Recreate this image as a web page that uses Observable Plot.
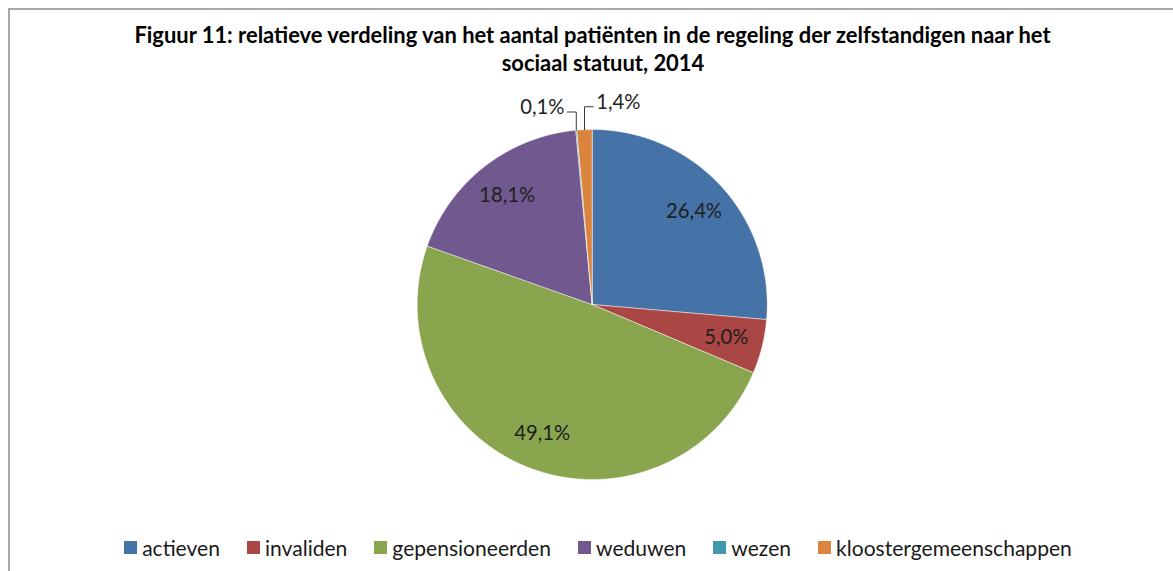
<!DOCTYPE html>
<html><head><meta charset="utf-8">
<script src="https://cdn.jsdelivr.net/npm/d3@7"></script>
<script src="https://cdn.jsdelivr.net/npm/@observablehq/plot@0.6"></script>
<style>
html,body{margin:0;padding:0;background:#fff;}
#wrap{position:relative;width:1173px;height:571px;overflow:hidden;}
#frame{position:absolute;left:8px;top:8px;width:1300px;height:700px;border:2px solid #a9a9a9;box-sizing:border-box;}
#chart{position:absolute;left:0;top:0;}
.title{position:absolute;text-align:center;font-weight:bold;color:#000;white-space:nowrap;}
#legend{position:absolute;left:0;width:1196px;top:537px;height:20px;display:flex;justify-content:center;align-items:center;gap:27px;color:#1a1a1a;white-space:nowrap;}
#legend .item{display:flex;align-items:center;}
#legend .sw{width:13px;height:13px;margin-right:5px;}
</style></head><body>
<div id="wrap">
  <div id="frame"></div>
  <div id="chart"></div>
  <div id="legend"></div>
</div>
<script>
// ---- data ----
const categories = ["actieven","invaliden","gepensioneerden","weduwen","wezen","kloostergemeenschappen"];
const values = [26.4, 5.0, 49.1, 18.1, 0.1, 1.4];
const colors = ["#4572A7","#AA4643","#89A54E","#71588F","#4198AF","#DB843D"];
const titleLines = [
  "Figuur 11: relatieve verdeling van het aantal patiënten in de regeling der zelfstandigen naar het",
  "sociaal statuut, 2014"
];

// ---- layout ----
const W = 1173, H = 571;
const CX = 591.7, CY = 304, R = 175;
const FONT = "Lato, 'Open Sans', sans-serif";

const ctx = document.createElement("canvas").getContext("2d");
function fit(text, weight, target) {
  ctx.font = `${weight} 100px Lato`;
  return 100 * target / ctx.measureText(text).width;
}
const titleSize = fit(titleLines[0], "bold", 919);
const legendSize = fit("kloostergemeenschappen", "normal", 236);
const labelSize = fit("26,4%", "normal", 56);

const fmt = v => v.toFixed(1).replace(".", ",") + "%";

// ---- slices ----
const arcs = d3.pie().sort(null).startAngle(0).endAngle(2 * Math.PI)(values);
const poly = [];
arcs.forEach((a, i) => {
  const n = Math.max(2, Math.ceil((a.endAngle - a.startAngle) / (Math.PI / 720)));
  poly.push({cat: categories[i], x: 0, y: 0});
  for (let k = 0; k <= n; k++) {
    const t = a.startAngle + (a.endAngle - a.startAngle) * k / n;
    poly.push({cat: categories[i], x: Math.sin(t), y: Math.cos(t)});
  }
  poly.push({cat: categories[i], x: 0, y: 0});
});

// labels
const inside = [], outside = [], leaders = [];
let k = 0;
arcs.forEach((a, i) => {
  const m = (a.startAngle + a.endAngle) / 2;
  if (values[i] >= 3) {
    inside.push({x: 0.79 * Math.sin(m), y: 0.79 * Math.cos(m), text: fmt(values[i])});
  } else {
    const side = k % 2 === 0 ? -1 : 1;
    const ly = 1.1 + 0.03 * k;
    const ex = Math.sin(m), ey = Math.cos(m);
    const tx = ex + side * 0.05;
    leaders.push({id: i, x: ex, y: ey}, {id: i, x: ex, y: ly}, {id: i, x: tx, y: ly});
    outside.push({x: tx, y: ly, text: fmt(values[i]), anchor: side < 0 ? "end" : "start"});
    k++;
  }
});

const plot = Plot.plot({
  width: W, height: H,
  margin: 0,
  x: {domain: [-CX / R, (W - CX) / R], range: [0, W], axis: null},
  y: {domain: [(CY - H) / R, CY / R], range: [H, 0], axis: null},
  color: {domain: categories, range: colors},
  style: {background: "transparent", fontFamily: FONT},
  marks: [
    Plot.line(poly, {x: "x", y: "y", z: "cat", fill: "cat", stroke: "#ffffff", strokeWidth: 0.8, strokeOpacity: 0.6, curve: "linear"}),
    Plot.line(leaders, {x: "x", y: "y", z: "id", stroke: "#3a3a3a", strokeWidth: 1}),
    Plot.text(inside, {x: "x", y: "y", text: "text", fontSize: labelSize, fill: "#1f1f1f"}),
    Plot.text(outside.filter(d => d.anchor === "end"), {x: "x", y: "y", text: "text", fontSize: labelSize, fill: "#1f1f1f", textAnchor: "end", lineAnchor: "bottom", dx: -3, dy: 2}),
    Plot.text(outside.filter(d => d.anchor === "start"), {x: "x", y: "y", text: "text", fontSize: labelSize, fill: "#1f1f1f", textAnchor: "start", lineAnchor: "bottom", dx: 3, dy: 2})
  ]
});
document.getElementById("chart").appendChild(plot);

// title
const wrap = document.getElementById("wrap");
const titleCenters = [592.5, 603];
titleLines.forEach((t, i) => {
  const d = document.createElement("div");
  d.className = "title";
  d.textContent = t;
  d.style.fontFamily = FONT;
  d.style.fontSize = titleSize + "px";
  d.style.lineHeight = "26px";
  d.style.left = (titleCenters[i] - 600) + "px";
  d.style.width = "1200px";
  d.style.top = (22 + i * 28) + "px";
  wrap.appendChild(d);
});

// legend
const lg = document.getElementById("legend");
lg.style.fontFamily = FONT;
lg.style.fontSize = legendSize + "px";
categories.forEach((c, i) => {
  const it = document.createElement("div");
  it.className = "item";
  const sw = document.createElement("span");
  sw.className = "sw";
  sw.style.background = colors[i];
  const tx = document.createElement("span");
  tx.textContent = c;
  it.appendChild(sw); it.appendChild(tx);
  lg.appendChild(it);
});
</script>
</body></html>
